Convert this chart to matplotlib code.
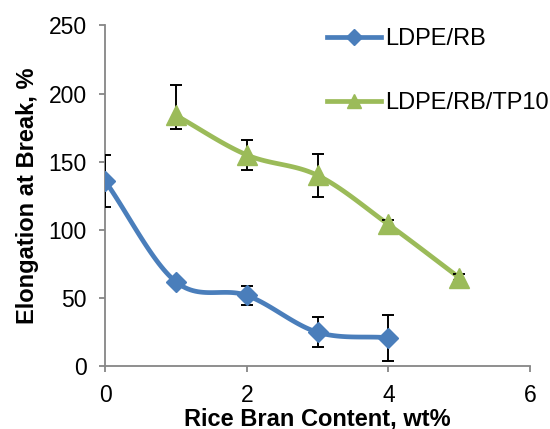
import numpy as np
import matplotlib
matplotlib.use("Agg")
import matplotlib.pyplot as plt
from matplotlib.lines import Line2D

plt.rcParams['font.family'] = ['Liberation Sans', 'DejaVu Sans']

# data
x_rb = [0, 1, 2, 3, 4]
y_rb = [136, 62, 52, 25, 21]
err_rb = [19, 0, 7, 11, 17]

x_tp = [1, 2, 3, 4, 5]
y_tp = [184, 155, 140, 104, 65]
err_tp_lo = [10, 11, 16, 2, 2]
err_tp_hi = [22, 11, 16, 3, 3]

labels = ['LDPE/RB', 'LDPE/RB/TP10']
blue = '#4A7EBB'
green = '#9BBB59'
axis_grey = '#868686'


def smooth(x, y, n=30):
    # catmull-rom curve through the points, like excel's smoothed line
    x = np.asarray(x, float)
    y = np.asarray(y, float)
    px = np.concatenate([[2 * x[0] - x[1]], x, [2 * x[-1] - x[-2]]])
    py = np.concatenate([[2 * y[0] - y[1]], y, [2 * y[-1] - y[-2]]])
    xs, ys = [], []
    t = np.linspace(0, 1, n)
    for i in range(1, len(px) - 2):
        for p, out in ((px, xs), (py, ys)):
            p0, p1, p2, p3 = p[i - 1], p[i], p[i + 1], p[i + 2]
            out.extend(0.5 * (2 * p1 + (-p0 + p2) * t
                              + (2 * p0 - 5 * p1 + 4 * p2 - p3) * t ** 2
                              + (-p0 + 3 * p1 - 3 * p2 + p3) * t ** 3))
    return xs, ys


fig = plt.figure(figsize=(5.5, 4.29), dpi=100)
ax = fig.add_axes([0.191, 0.146, 0.773, 0.795])

for xv, yv, col, mk, ms in ((x_rb, y_rb, blue, 'D', 10), (x_tp, y_tp, green, '^', 14.5)):
    sx, sy = smooth(xv, yv)
    ax.plot(sx, sy, color=col, lw=3.4, solid_capstyle='round', zorder=2)
    ax.plot(xv, yv, ls='none', marker=mk, ms=ms, color=col, zorder=4)

ax.errorbar(x_rb, y_rb, yerr=err_rb, fmt='none', ecolor='black', elinewidth=1.4,
            capsize=4.3, capthick=1.4, zorder=3)
ax.errorbar(x_tp, y_tp, yerr=[err_tp_lo, err_tp_hi], fmt='none', ecolor='black',
            elinewidth=1.4, capsize=4.3, capthick=1.4, zorder=3)

ax.set_xlim(0, 6)
ax.set_ylim(0, 250)
ax.set_xticks([0, 2, 4, 6])
ax.set_yticks([0, 50, 100, 150, 200, 250])
for s in ('top', 'right'):
    ax.spines[s].set_visible(False)
for s in ('left', 'bottom'):
    ax.spines[s].set_color(axis_grey)
    ax.spines[s].set_linewidth(1.3)
ax.tick_params(colors=axis_grey, labelcolor='black', labelsize=16.5, width=1.3,
               length=4, direction='out')
ax.tick_params(axis='x', pad=9)
ax.tick_params(axis='y', pad=9)

ax.set_xlabel('Rice Bran Content, wt%', fontsize=17, fontweight='bold', labelpad=0)
ax.set_ylabel('Elongation at Break, %', fontsize=17, fontweight='bold', labelpad=7)

handles = [Line2D([], [], color=blue, lw=3.4, marker='D', ms=8),
           Line2D([], [], color=green, lw=3.4, marker='^', ms=10)]
ax.legend(handles, labels, loc='upper left', bbox_to_anchor=(0.471, 1.053), frameon=False,
          fontsize=17, handlelength=2.3, handletextpad=0.17, labelspacing=1.75)

fig.savefig('out.png', dpi=100)
